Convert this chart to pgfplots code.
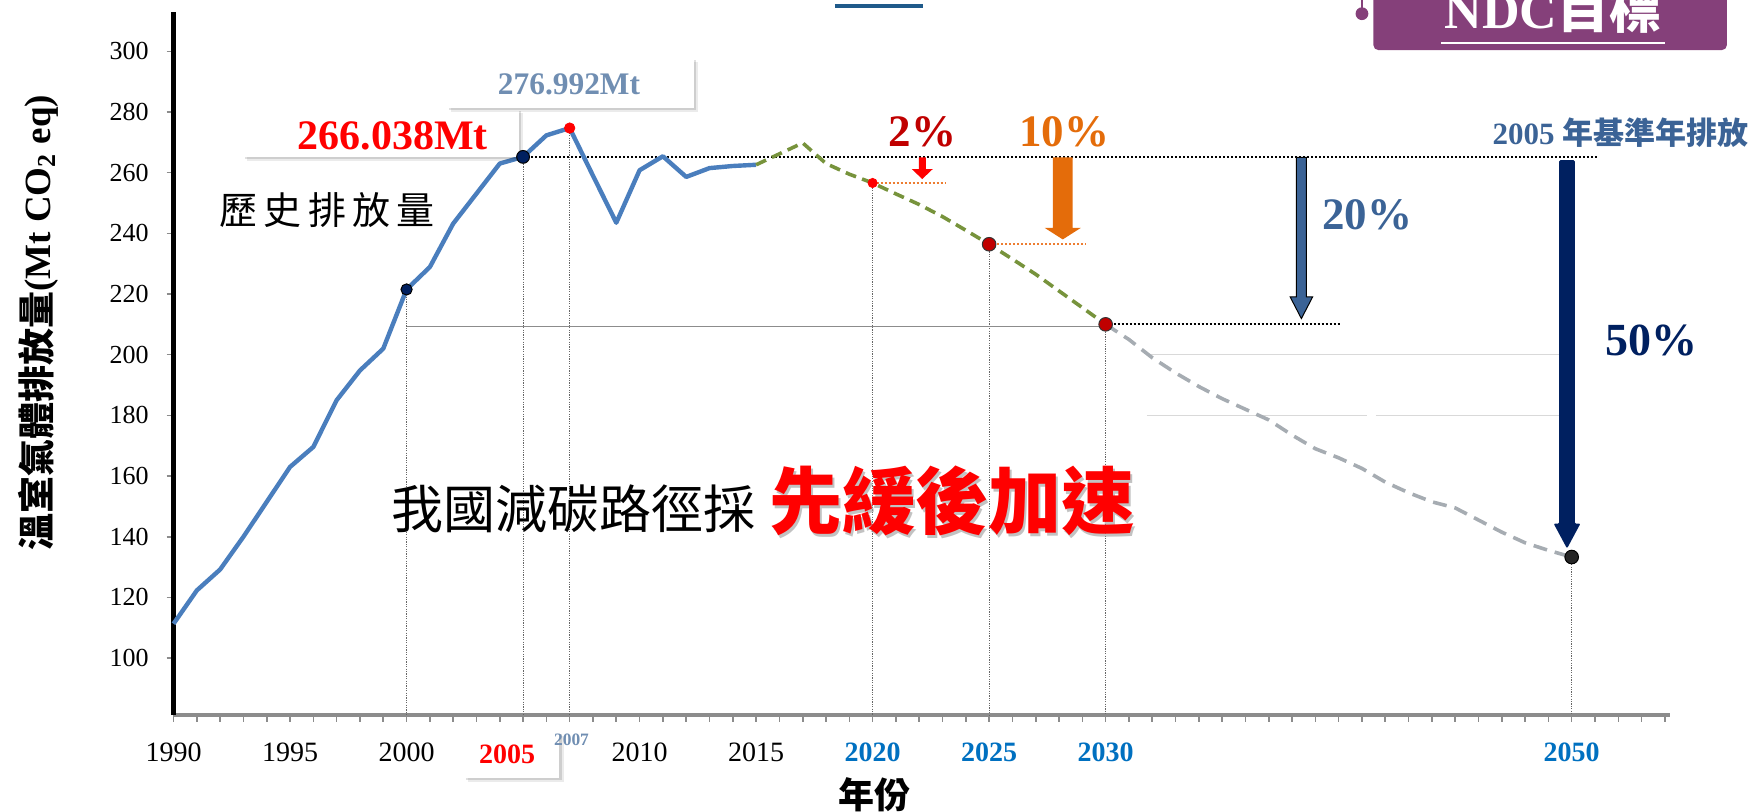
\documentclass[border=0pt]{standalone}
\usepackage{fontspec}
\setmainfont{Liberation Serif}
\newfontfamily\cjk{Noto Sans CJK TC}
\usepackage{pgfplots}
\pgfplotsset{compat=1.18}
\definecolor{histblue}{RGB}{74,126,189}
\definecolor{ndcgreen}{RGB}{119,147,60}
\definecolor{projgray}{RGB}{166,172,178}
\definecolor{navyA}{RGB}{0,32,96}
\definecolor{darkredA}{RGB}{192,0,0}
\definecolor{orangeA}{RGB}{228,108,10}
\definecolor{orangeB}{RGB}{237,125,49}
\definecolor{steelA}{RGB}{59,99,150}
\definecolor{labgray}{RGB}{112,142,178}
\definecolor{tickblue}{RGB}{0,112,192}
\definecolor{ndcpurple}{RGB}{133,64,122}
\definecolor{titleblue}{RGB}{31,90,138}
\newcommand{\blockarrow}[7]{%
 \path[#7] ([xshift=-#4]axis cs:#1,#2) -- ([xshift=#4]axis cs:#1,#2) -- ([xshift=#4,yshift=#6]axis cs:#1,#3) -- ([xshift=#5,yshift=#6]axis cs:#1,#3) -- (axis cs:#1,#3) -- ([xshift=-#5,yshift=#6]axis cs:#1,#3) -- ([xshift=-#4,yshift=#6]axis cs:#1,#3) -- cycle;}
% shadowed white box: x, y, width, height
\newcommand{\shbox}[4]{%
 \node[fill=black, opacity=0.08, minimum width=#3, minimum height=#4, inner sep=0] at ([xshift=2.2pt,yshift=-2.2pt]axis cs:#1,#2) {};
 \node[fill=black, opacity=0.12, minimum width=#3, minimum height=#4, inner sep=0] at ([xshift=1.2pt,yshift=-1.2pt]axis cs:#1,#2) {};
 \node[fill=white, minimum width=#3, minimum height=#4, inner sep=0] at (axis cs:#1,#2) {};}
\begin{document}
\begin{tikzpicture}
\useasboundingbox (0,0) rectangle (876pt,405.6pt);
\begin{axis}[
  at={(86.77pt,48.05pt)}, anchor=south west, scale only axis,
  width=748pt, height=351.3pt,
  xmin=1990, xmax=2054.2, ymin=81.2, ymax=312.8,
  clip=false,
  axis x line=bottom, axis y line=left,
  x axis line style={-, draw=black!45, line width=1.6pt},
  y axis line style={-, draw=black, line width=2.2pt},
  xtick={1990,1995,2000,2010,2015,2020,2025,2030,2050},
  xticklabels={\textrm{1990},\textrm{1995},\textrm{2000},\textrm{2010},\textrm{2015},
    \textcolor{tickblue}{\textbf{2020}},\textcolor{tickblue}{\textbf{2025}},
    \textcolor{tickblue}{\textbf{2030}},\textcolor{tickblue}{\textbf{2050}}},
  minor xtick={1990,1991,...,2054},
  ytick={100,120,...,300},
  tick align=outside,
  major tick length=3.4pt, minor tick length=3.4pt,
  tick style={draw=black!45, line width=0.8pt},
  xticklabel style={font=\fontsize{14}{16}\selectfont, yshift=-7.2pt},
  yticklabel style={font=\fontsize{13}{15}\selectfont, xshift=-5.5pt},
  /pgf/number format/assume math mode=true,
  vguide/.style={black!60, line width=0.45pt, dash pattern=on 0.6pt off 0.6pt},
  bdot/.style={black, line width=1pt, dash pattern=on 1pt off 1pt},
  odot/.style={orangeB, line width=1pt, dash pattern=on 1pt off 1pt},
]
% guide lines
\addplot[vguide] coordinates {(2000,221.5) (2000,81.2)};
\addplot[vguide] coordinates {(2005,265.2) (2005,81.2)};
\addplot[vguide] coordinates {(2007,274.7) (2007,81.2)};
\addplot[vguide] coordinates {(2020,256.6) (2020,81.2)};
\addplot[vguide] coordinates {(2025,236.4) (2025,81.2)};
\addplot[vguide] coordinates {(2030,210) (2030,81.2)};
\addplot[vguide] coordinates {(2050,133.3) (2050,81.2)};
\addplot[black!45, line width=0.4pt] coordinates {(2000,209.3) (2030,209.3)};
\addplot[black!15, line width=0.6pt] coordinates {(2031.77,200) (2049.46,200)};
\addplot[black!15, line width=0.6pt] coordinates {(2031.77,180) (2041.2,180)};
\addplot[black!15, line width=0.6pt] coordinates {(2041.6,180) (2049.46,180)};
\addplot[bdot] coordinates {(2005,265.2) (2051.07,265.2)};
\addplot[bdot] coordinates {(2030,210) (2040.12,210)};
\addplot[odot] coordinates {(2020,256.6) (2023.14,256.6)};
\addplot[odot] coordinates {(2025,236.4) (2029.17,236.4)};
% series
\addplot[histblue, line width=2.2pt, line join=round] coordinates {
 (1990,111.3) (1991,122.3) (1992,129.2) (1993,140.0) (1994,151.5) (1995,163.0)
 (1996,169.6) (1997,185.0) (1998,194.8) (1999,202.0) (2000,221.5) (2001,228.9)
 (2002,243.2) (2003,253.1) (2004,263.0) (2005,265.2) (2006,272.3) (2007,274.7)
 (2008,259.0) (2009,243.5) (2010,260.8) (2011,265.4) (2012,258.6) (2013,261.5)
 (2014,262.2) (2015,262.6)};
\addplot[ndcgreen, line width=1.8pt, dash pattern=on 5.5pt off 3.2pt] coordinates {
 (2015,262.6) (2016,266.2) (2017,269.8) (2018,263.0) (2019,259.5) (2020,256.6)
 (2021,253.0) (2022,249.5) (2023,245.5) (2024,241.0) (2025,236.4) (2026,231.5)
 (2027,226.5) (2028,221.0) (2029,215.5) (2030,210.0)};
\addplot[projgray, line width=1.8pt, dash pattern=on 7pt off 4pt] coordinates {
 (2030,210) (2031,205) (2032,199) (2033,194) (2034,189.5) (2035,185.5)
 (2036,182) (2037,178.5) (2038,173.5) (2039,169) (2040,166) (2041,162.5)
 (2042,158) (2043,154.5) (2044,151.5) (2045,149.5) (2046,145.5) (2047,141.5)
 (2048,138) (2049,135.5) (2050,133.3)};
% arrows
\blockarrow{2022.13}{265.0}{257.9}{1.75pt}{5.25pt}{5pt}{fill=red}
\blockarrow{2028.16}{265.0}{238.0}{4.9pt}{9.1pt}{5.8pt}{fill=orangeA}
\blockarrow{2038.40}{265.0}{211.9}{2.55pt}{5.6pt}{10.8pt}{fill=steelA, draw=black, line width=0.5pt}
\blockarrow{2049.80}{264.1}{136.1}{3.9pt}{6.7pt}{12.5pt}{fill=navyA, rounded corners=0.6pt}
% markers
\addplot[only marks, mark=*, mark size=2.8pt, mark options={fill=navyA, draw=black, line width=0.5pt}] coordinates {(2000,221.5)};
\addplot[only marks, mark=*, mark size=3.2pt, mark options={fill=navyA, draw=black, line width=0.5pt}] coordinates {(2005,265.2)};
\addplot[only marks, mark=*, mark size=2.6pt, mark options={fill=red, draw=red}] coordinates {(2007,274.7)};
\addplot[only marks, mark=*, mark size=2.3pt, mark options={fill=red, draw=red}] coordinates {(2020,256.6)};
\addplot[only marks, mark=*, mark size=3.4pt, mark options={fill=darkredA, draw=black!80, line width=0.5pt}] coordinates {(2025,236.4) (2030,210)};
\addplot[only marks, mark=*, mark size=3.4pt, mark options={fill=black!85, draw=black, line width=0.5pt}] coordinates {(2050,133.3)};
% value boxes
\shbox{1998.9}{273.2}{138pt}{24.1pt}
\node[anchor=base, inner sep=0, text=red, font=\bfseries\fontsize{21}{24}\selectfont] at (axis cs:1999.4,267.6) {266.038Mt};
\shbox{2007.02}{289.6}{123.4pt}{25pt}
\node[anchor=base, inner sep=0, text=labgray, font=\bfseries\fontsize{15.7}{18}\selectfont] at (axis cs:2006.97,285.7) {276.992Mt};
\shbox{2004.5}{68.1}{48pt}{22.8pt}
\node[anchor=base, inner sep=0, text=red, font=\bfseries\fontsize{14}{16}\selectfont] at (axis cs:2004.32,65.2) {2005};
\node[anchor=base, inner sep=0, text=labgray, font=\bfseries\fontsize{8.7}{10}\selectfont] at (axis cs:2007.08,71.2) {2007};
% percentages
\node[anchor=base, inner sep=0, text=darkredA, font=\bfseries\fontsize{22.5}{26}\selectfont] at (axis cs:2022.13,268.5) {2\%};
\node[anchor=base, inner sep=0, text=orangeA, font=\bfseries\fontsize{22.5}{26}\selectfont] at (axis cs:2028.22,268.5) {10\%};
\node[anchor=base, inner sep=0, text=steelA, font=\bfseries\fontsize{22.5}{26}\selectfont] at (axis cs:2041.22,241.4) {20\%};
\node[anchor=base, inner sep=0, text=navyA, font=\bfseries\fontsize{23}{26}\selectfont] at (axis cs:2053.42,199.8) {50\%};
\node[anchor=base east, inner sep=0, text=steelA, font=\bfseries\fontsize{15.5}{18}\selectfont] at (axis cs:2057.6,269.4) {2005 {\cjk 年基準年排放}};
% texts
\node[inner sep=0, font=\cjk\fontsize{19}{22}\selectfont] at (axis cs:1996.59,247.7) {歷\hspace{3.2pt}史\hspace{3.2pt}排\hspace{3.2pt}放\hspace{3.2pt}量};
\node[anchor=west, inner sep=0, font=\cjk\fontsize{26}{30}\selectfont] at (axis cs:1999.35,149.2) {我國減碳路徑採};
\node[anchor=west, inner sep=0, text=black!40, opacity=0.6, font=\cjk\bfseries\fontsize{36.5}{40}\selectfont] at ([xshift=1.2pt,yshift=-1.2pt]axis cs:2015.55,151.7) {先緩後加速};
\node[anchor=west, inner sep=0, text=red, font=\cjk\bfseries\fontsize{36.5}{40}\selectfont] at (axis cs:2015.55,151.7) {先緩後加速};
\node[rotate=90, inner sep=0, font=\bfseries\fontsize{18.5}{22}\selectfont] at (axis cs:1984.2,210.5) {{\cjk 溫室氣體排放量}(Mt CO\textsubscript{2} eq)};
\node[inner sep=0, font=\cjk\bfseries\fontsize{18}{22}\selectfont] at (axis cs:2020.06,55.0) {年份};
% NDC box
\fill[ndcpurple, rounded corners=2.5pt] (axis cs:2041.49,300.4) rectangle (axis cs:2056.66,325);
\draw[ndcpurple, line width=0.8pt] (axis cs:2041.0,312.4) -- (axis cs:2041.0,325);
\fill[ndcpurple] (axis cs:2041.0,312.4) circle[radius=3.2pt];
\node[anchor=base, inner sep=0, text=white, font=\bfseries\fontsize{26}{30}\selectfont] at (axis cs:2049.2,307.6) {NDC{\cjk 目標}};
\draw[white, line width=1.1pt] (axis cs:2044.4,302.8) -- (axis cs:2054.0,302.8);
% cropped title underline
\draw[titleblue, line width=1.7pt] (axis cs:2018.38,315.0) -- (axis cs:2022.17,315.0);
\end{axis}
\end{tikzpicture}
\end{document}
